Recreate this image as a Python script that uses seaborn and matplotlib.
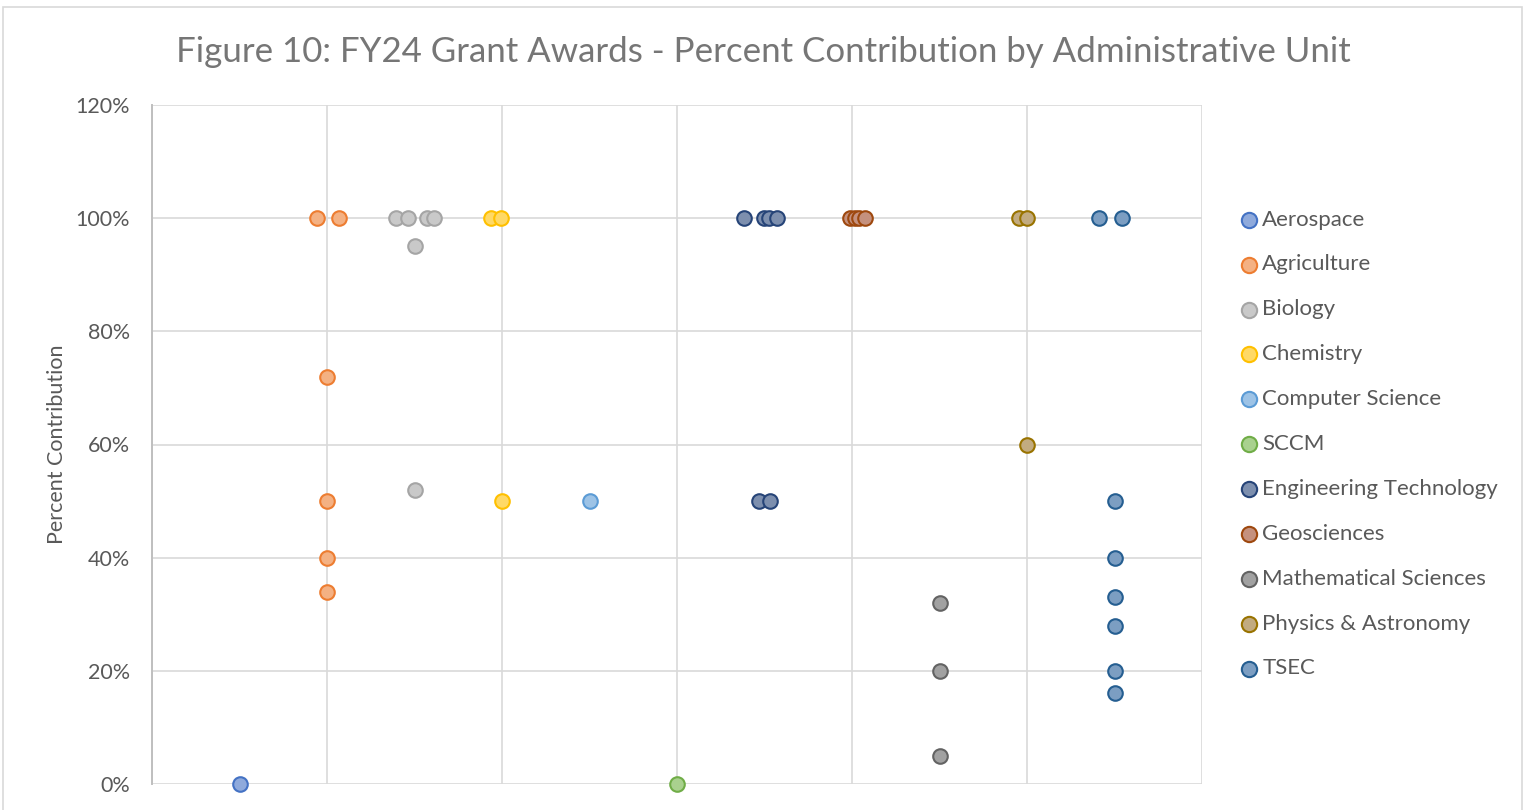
import matplotlib
matplotlib.use("Agg")
import matplotlib.pyplot as plt
import seaborn as sns
import pandas as pd
from matplotlib.patches import Rectangle
from matplotlib.ticker import FuncFormatter, MultipleLocator

# ---- data (x = category position with visible horizontal offsets, y = percent) ----
aerospace_x = [1.0]
aerospace_y = [0]
agriculture_x = [1.89, 2.14, 2.0, 2.0, 2.0, 2.0]
agriculture_y = [100, 100, 72, 50, 40, 34]
biology_x = [2.79, 2.93, 3.14, 3.22, 3.0, 3.0]
biology_y = [100, 100, 100, 100, 95, 52]
chemistry_x = [3.87, 3.99, 4.0]
chemistry_y = [100, 100, 50]
compsci_x = [5.0]
compsci_y = [50]
sccm_x = [6.0]
sccm_y = [0]
engtech_x = [6.76, 6.99, 7.05, 7.14, 6.94, 7.06]
engtech_y = [100, 100, 100, 100, 50, 50]
geo_x = [7.98, 8.03, 8.08, 8.15]
geo_y = [100, 100, 100, 100]
math_x = [9.0, 9.0, 9.0]
math_y = [32, 20, 5]
physics_x = [9.91, 10.0, 10.0]
physics_y = [100, 100, 60]
tsec_x = [10.82, 11.08, 11.0, 11.0, 11.0, 11.0, 11.0, 11.0]
tsec_y = [100, 100, 50, 40, 33, 28, 20, 16]

units = ["Aerospace", "Agriculture", "Biology", "Chemistry", "Computer Science", "SCCM",
         "Engineering Technology", "Geosciences", "Mathematical Sciences",
         "Physics & Astronomy", "TSEC"]
xs = [aerospace_x, agriculture_x, biology_x, chemistry_x, compsci_x, sccm_x,
      engtech_x, geo_x, math_x, physics_x, tsec_x]
ys = [aerospace_y, agriculture_y, biology_y, chemistry_y, compsci_y, sccm_y,
      engtech_y, geo_y, math_y, physics_y, tsec_y]

edge_colors = ["#4472C4", "#ED7D31", "#A5A5A5", "#FFC000", "#5B9BD5", "#70AD47",
               "#264478", "#9E480E", "#636363", "#997300", "#255E91"]
fill_colors = ["#8FAADC", "#F4B183", "#C9C9C9", "#FFD966", "#9DC3E6", "#A9D18E",
               "#7D8FAE", "#C5917E", "#A1A1A1", "#C2AB80", "#7C9EC2"]

y_ticks = [0, 20, 40, 60, 80, 100, 120]

sns.set_theme(style="white")
plt.rcParams["font.family"] = ["Lato", "DejaVu Sans"]

fig = plt.figure(figsize=(15.3, 8.1), dpi=100)
ax = fig.add_axes([152 / 1530, 1 - 784 / 810, (1202 - 152) / 1530, (784 - 105) / 810])

for name, x, y, ec, fc in zip(units, xs, ys, edge_colors, fill_colors):
    df = pd.DataFrame({"x": x, "y": y})
    sns.scatterplot(data=df, x="x", y="y", ax=ax, color=fc, edgecolor=ec,
                    s=110, linewidth=1.5, label=name, zorder=3, clip_on=False)

ax.set_xlim(0, 12)
ax.set_ylim(0, 120)
ax.xaxis.set_major_locator(MultipleLocator(2))
ax.set_yticks(y_ticks)
ax.yaxis.set_major_formatter(FuncFormatter(lambda v, p: f"{int(v)}%"))
ax.set_xticklabels([])
ax.tick_params(axis="x", length=0)
ax.tick_params(axis="y", length=0, labelsize=15.5, labelcolor="#595959", pad=16)
ax.grid(True, color="#D9D9D9", linewidth=1.2, zorder=0)
ax.set_axisbelow(True)
for side in ["top", "right", "bottom"]:
    ax.spines[side].set_visible(False)
ax.spines["left"].set_color("#BFBFBF")
ax.spines["left"].set_linewidth(1.4)
ax.set_xlabel("")
ax.set_ylabel("Percent Contribution", fontsize=15.5, color="#595959", labelpad=6)

leg = ax.legend(loc="center left", bbox_to_anchor=(1.0257, 0.5007), frameon=False,
                fontsize=16, labelcolor="#595959", handlelength=1.0, handletextpad=0.1,
                labelspacing=1.12, borderaxespad=0, markerscale=1.05)

fig.suptitle("Figure 10: FY24 Grant Awards - Percent Contribution by Administrative Unit",
             x=(176 + 1350) / 2 / 1530, y=1 - 52 / 810, va="center",
             fontsize=25.1, color="#767676")

fig.patches.append(Rectangle((3 / 1530, -0.01), 1519 / 1530, 1.0 - 7 / 810 + 0.01,
                             transform=fig.transFigure, fill=False,
                             edgecolor="#D9D9D9", linewidth=1.2))

fig.savefig("out.png", dpi=100)
